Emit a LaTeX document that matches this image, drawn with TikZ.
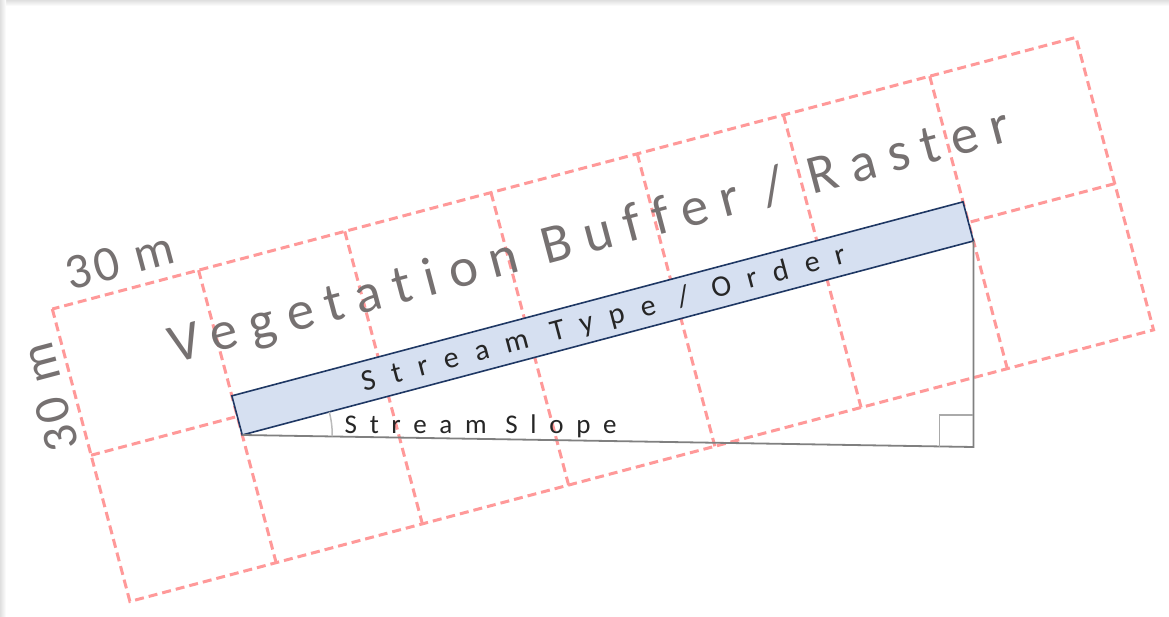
\documentclass[tikz,border=0pt]{standalone}
\usepackage{fontspec}
\setmainfont{Carlito}
\newfontfamily\vegfont[LetterSpace=24,Ligatures=NoCommon]{Carlito}
\newfontfamily\typefont[LetterSpace=56,Ligatures=NoCommon]{Carlito}
\newfontfamily\slopefont[LetterSpace=47,Ligatures=NoCommon]{Carlito}
\newfontfamily\dimfont[LetterSpace=8,Ligatures=NoCommon]{Carlito}
\definecolor{gridpink}{RGB}{255,153,153}
\definecolor{txtgray}{RGB}{118,113,113}
\definecolor{streamfill}{RGB}{214,224,241}
\definecolor{streamedge}{RGB}{31,56,100}
\definecolor{trigray}{RGB}{128,128,128}
\definecolor{markgray}{RGB}{170,170,170}
\definecolor{darktext}{RGB}{38,38,38}
\begin{document}
\begin{tikzpicture}[x=1pt,y=-1pt,
  gridline/.style={draw=gridpink, line width=3pt, dash pattern=on 9pt off 5pt},
  streambox/.style={draw=streamedge, fill=streamfill, line width=1.6pt, line join=miter},
  trisides/.style={draw=trigray, line width=1.8pt},
  marker/.style={draw=markgray, line width=1.5pt},
  bigtext/.style={transform shape, text=txtgray, inner sep=0pt},
  darklabel/.style={text=darktext, inner sep=0pt}]
\useasboundingbox (0,0) rectangle (1169,617);
\fill[white] (0,0) rectangle (1169,617);
\shade[top color=gray!25, bottom color=white] (0,0) rectangle (1169,6);
\shade[left color=gray!25, right color=white] (0,0) rectangle (6,617);
\def\s{151.3}
\begin{scope}[shift={(52.3,309)}, rotate=14.86]
  \draw[gridline] (0,0) rectangle (7*\s,2*\s);
  \foreach \i in {1,...,6} \draw[gridline] (\i*\s,0) -- (\i*\s,2*\s);
  \draw[gridline] (0,\s) -- (7*\s,\s);
  \coordinate (rTL) at (\s,130);
  \coordinate (rBR) at (6*\s,170.5);
  \coordinate (rBL) at (\s,170.5);
  \draw[streambox] (rTL) rectangle (rBR);
  \node[bigtext, anchor=base, font=\vegfont\fontsize{55}{60}\selectfont] (veg) at (538,84) {Vegetation Buffer / Raster};
  \node[darklabel, transform shape, anchor=base, font=\typefont\fontsize{30}{34}\selectfont] (stype) at (531,159.5) {Stream Type / Order};
  \node[bigtext, anchor=base west, font=\dimfont\fontsize{50}{56}\selectfont] (dimtop) at (22,-13) {30 m};
  \node[bigtext, rotate=90, anchor=base west, font=\dimfont\fontsize{50}{56}\selectfont] (dimleft) at (-9,140) {30 m};
\end{scope}
\coordinate (baseref) at (0,447);
\coordinate (corner) at (rBR |- baseref);
\draw[trisides] (rBL) -- (corner) -- (rBR);
\draw[marker] (corner) ++(0,-32) -- ++(-34,0) -- ++(0,32);
\draw[marker, draw=markgray!80] (rBL) ++(-0.8:90pt) arc[start angle=-0.8, end angle=14.86, radius=90pt];
\node[darklabel, anchor=base west, font=\slopefont\fontsize{27}{30}\selectfont] (slope) at (344.5,433.3) {Stream Slope};
\end{tikzpicture}
\end{document}
